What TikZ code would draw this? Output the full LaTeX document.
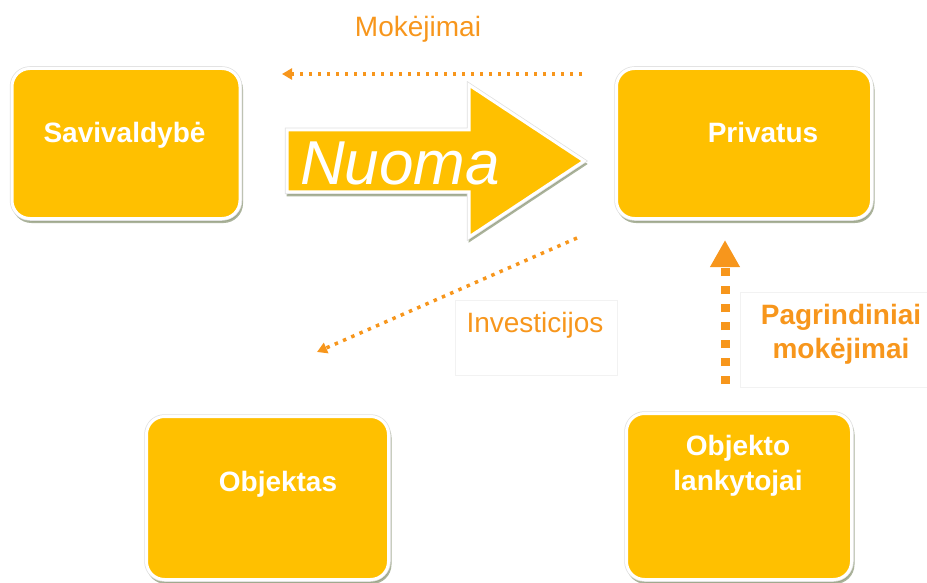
\documentclass[tikz,border=0pt]{standalone}
\usepackage{fontspec}
\setmainfont{Liberation Sans}
\usetikzlibrary{shadows,arrows.meta}
\definecolor{boxfill}{HTML}{FFC000}
\definecolor{accent}{HTML}{F7961C}
\definecolor{shadowc}{RGB}{150,160,130}
\tikzset{
  box/.style={rounded corners=18pt, inner sep=0pt,
    drop shadow={shadow xshift=1.5pt, shadow yshift=-3pt, fill=shadowc, draw=shadowc,
      line width=3pt, opacity=0.8},
    preaction={draw=black!12, line width=4.5pt},
    fill=boxfill, draw=white, line width=3pt},
  boxtext/.style={text=white, font=\fontsize{28}{35}\selectfont\bfseries, inner sep=0pt, align=center},
  flowtext/.style={text=accent, font=\fontsize{28}{34}\selectfont, inner sep=0pt, align=center},
  faintframe/.style={draw=black!5, line width=0.8pt, inner sep=0pt},
  flowdots/.style={draw=accent, line width=3.5pt, dash pattern=on 3.5pt off 5.5pt,
    -{Triangle[length=10pt,width=11pt]}},
  mainflow/.style={draw=accent, line width=9pt, dash pattern=on 8pt off 10pt,
    -{Triangle[length=27pt,width=28pt]}},
  bigarrow/.style={fill=boxfill, draw=white, line width=3pt,
    drop shadow={shadow xshift=1pt, shadow yshift=-3pt, fill=shadowc, draw=shadowc,
      line width=3pt, opacity=0.8},
    preaction={draw=black!12, line width=4.5pt}},
}
\begin{document}
\begin{tikzpicture}[x=1pt, y=-1pt]
\useasboundingbox (0,0) rectangle (927,583);

% main boxes
\node[box, minimum width=228pt, minimum height=150pt] (sav)  at (126,143.5) {};
\node[box, minimum width=255pt, minimum height=150pt] (priv) at (744,143.5) {};
\node[box, minimum width=242pt, minimum height=163pt] (obj)  at (267.5,498) {};
\node[box, minimum width=225pt, minimum height=166pt] (lank) at (739,496.5) {};

\node[boxtext, anchor=base] (savt)  at (124.5,143) {Savivaldybė};
\node[boxtext, anchor=base] (privt) at (763,143) {Privatus};
\node[boxtext, anchor=base] (objt)  at (278,491) {Objektas};
\node[boxtext] (lankt) at (738,465.5) {Objekto\\lankytojai};

% lease arrow
\path[bigarrow] (287,130) -- (469,130) -- (469,85) -- (584,161) -- (469,237)
  -- (469,192) -- (287,192) -- cycle;
\node[text=white, font=\fontsize{62}{62}\selectfont\itshape, inner sep=0pt, anchor=base]
  (nuoma) at (400,185) {Nuoma};

% payments to the municipality
\coordinate (mstart) at (582,74);
\coordinate (mend) at (282,74);
\draw[flowdots] (mstart) -- (mend);
\node[flowtext, anchor=base] (mok) at (418,37) {Mokėjimai};

% investments into the object
\coordinate (istart) at (577,238);
\coordinate (iend) at (317,352);
\draw[flowdots] (istart) -- (iend);
\node[faintframe, minimum width=162pt, minimum height=75pt] (invframe) at (536,337.5) {};
\node[flowtext, anchor=base] (inv) at (535,332) {Investicijos};

% main payments from visitors
\coordinate (pstart) at (725,384);
\coordinate (pend) at (725,240);
\draw[mainflow] (pstart) -- (pend);
\node[faintframe, minimum width=190pt, minimum height=95pt] (pagframe) at (835,339.5) {};
\node[flowtext, font=\fontsize{28}{34}\selectfont\bfseries] (pag) at (841,334.5) {Pagrindiniai\\mokėjimai};
\end{tikzpicture}
\end{document}
